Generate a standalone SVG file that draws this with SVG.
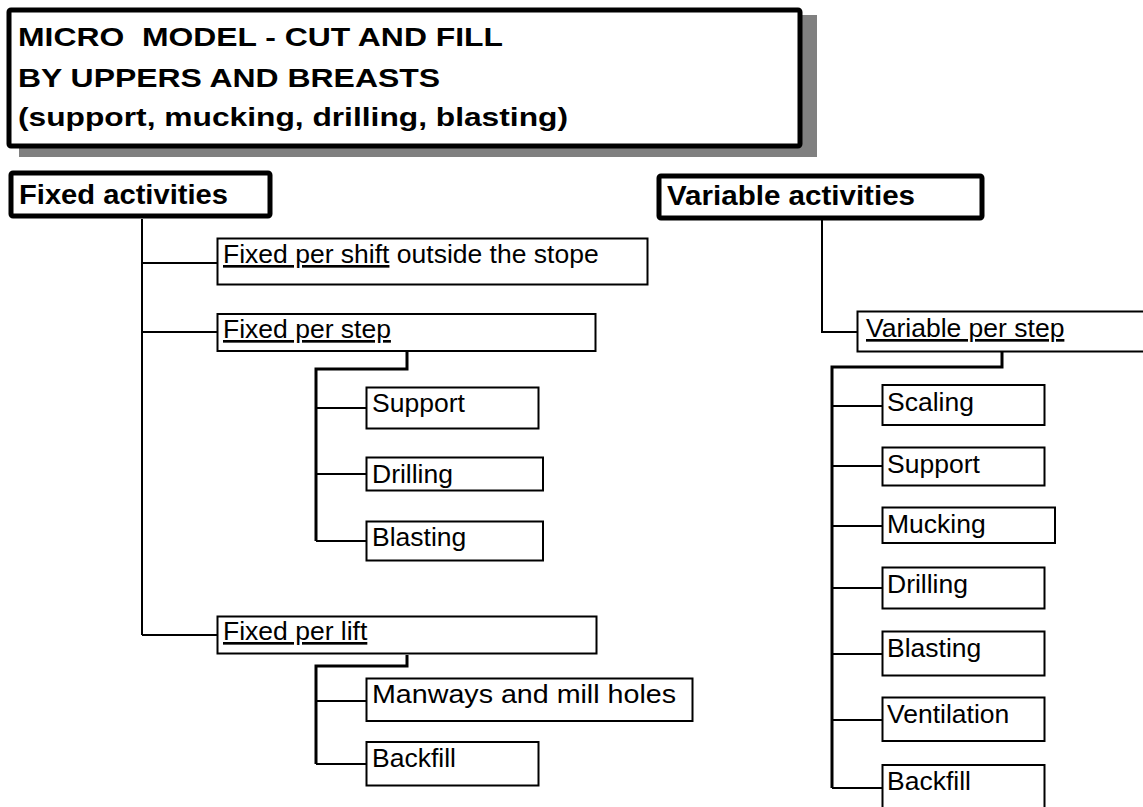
<svg xmlns="http://www.w3.org/2000/svg" width="1143" height="807" viewBox="0 0 1143 807">
<style>
.bg{fill:#ffffff}
.hdr{fill:#ffffff;stroke:#000;stroke-width:5}
.box{fill:#ffffff;stroke:#000;stroke-width:2}
.t{font-family:"Liberation Sans",Arial,sans-serif;font-size:26.5px;fill:#000}
.b{font-family:"Liberation Sans",Arial,sans-serif;font-weight:bold;fill:#000}
.u{text-decoration:underline}
.c{fill:none;stroke:#000;stroke-width:2}
.e{fill:none;stroke:#000;stroke-width:3}
</style>
<rect class="bg" x="0" y="0" width="1143" height="807"/>
<g id="title">
<rect x="19" y="15" width="798" height="142" fill="#808080"/>
<rect class="hdr" x="9" y="10" width="791" height="136" rx="2"/>
<text class="b" x="18" y="45.5" font-size="26" textLength="485" lengthAdjust="spacingAndGlyphs" xml:space="preserve">MICRO  MODEL - CUT AND FILL</text>
<text class="b" x="18" y="86.5" font-size="26" textLength="422" lengthAdjust="spacingAndGlyphs">BY UPPERS AND BREASTS</text>
<text class="b" x="18" y="126" font-size="26" textLength="550" lengthAdjust="spacingAndGlyphs">(support, mucking, drilling, blasting)</text>
</g>
<g id="connectors">
<path class="c" d="M142 219 V635 M142 263 H217 M142 332 H217 M142 635 H217"/>
<path class="e" d="M407 352 V369 H316 V541"/>
<path class="c" d="M316 408 H366 M316 474 H366 M316 541 H366"/>
<path class="e" d="M407 655 V666 H316 V764"/>
<path class="c" d="M316 701 H366 M316 764 H366"/>
<path class="c" d="M822 220 V332 H857"/>
<path class="e" d="M1002 352 V367 H832 V788"/>
<path class="c" d="M832 406 H882 M832 466 H882 M832 526 H882 M832 588 H882 M832 654 H882 M832 720 H882 M832 788 H882"/>
</g>
<g id="fixed-activities">
<rect class="hdr" x="11" y="173" width="259" height="43" rx="2"/>
<text class="b" x="19" y="204" font-size="27" textLength="209" lengthAdjust="spacingAndGlyphs">Fixed activities</text>
</g>
<g id="fixed-per-shift">
<rect class="box" x="217.5" y="238.5" width="430" height="46"/>
<text class="t" x="223" y="263"><tspan class="u">Fixed per shift</tspan> outside the stope</text>
</g>
<g id="fixed-per-step">
<rect class="box" x="217.5" y="314" width="378" height="37"/>
<text class="t" x="223" y="338"><tspan class="u">Fixed per step</tspan></text>
</g>
<g id="fixed-support">
<rect class="box" x="366.5" y="387.5" width="172" height="41"/>
<text class="t" x="372" y="412">Support</text>
</g>
<g id="fixed-drilling">
<rect class="box" x="366.5" y="457.5" width="176.5" height="33"/>
<text class="t" x="372" y="483">Drilling</text>
</g>
<g id="fixed-blasting">
<rect class="box" x="366.5" y="521.5" width="176.5" height="39"/>
<text class="t" x="372" y="546">Blasting</text>
</g>
<g id="fixed-per-lift">
<rect class="box" x="217.5" y="616.5" width="379" height="37"/>
<text class="t" x="223" y="640"><tspan class="u">Fixed per lift</tspan></text>
</g>
<g id="fixed-manways">
<rect class="box" x="366.5" y="678.5" width="326" height="42.5"/>
<text class="t" x="372" y="703" font-size="27" textLength="304" lengthAdjust="spacingAndGlyphs">Manways and mill holes</text>
</g>
<g id="fixed-backfill">
<rect class="box" x="366.5" y="742" width="172" height="43.5"/>
<text class="t" x="372" y="767">Backfill</text>
</g>
<g id="variable-activities">
<rect class="hdr" x="659" y="176" width="323" height="42" rx="2"/>
<text class="b" x="667" y="205" font-size="27" textLength="248" lengthAdjust="spacingAndGlyphs">Variable activities</text>
</g>
<g id="variable-per-step">
<rect class="box" x="857.5" y="311.5" width="300" height="40"/>
<text class="t" x="866" y="337"><tspan class="u">Variable per step</tspan></text>
</g>
<g id="var-scaling">
<rect class="box" x="882.5" y="385" width="162" height="40"/>
<text class="t" x="887" y="411">Scaling</text>
</g>
<g id="var-support">
<rect class="box" x="882.5" y="447.5" width="162" height="38"/>
<text class="t" x="887" y="473">Support</text>
</g>
<g id="var-mucking">
<rect class="box" x="882.5" y="507.5" width="172.5" height="35.5"/>
<text class="t" x="887" y="533">Mucking</text>
</g>
<g id="var-drilling">
<rect class="box" x="882.5" y="567.5" width="162" height="41"/>
<text class="t" x="887" y="593">Drilling</text>
</g>
<g id="var-blasting">
<rect class="box" x="882.5" y="631.5" width="162" height="44"/>
<text class="t" x="887" y="657">Blasting</text>
</g>
<g id="var-ventilation">
<rect class="box" x="882.5" y="697.5" width="162" height="43.5"/>
<text class="t" x="887" y="723">Ventilation</text>
</g>
<g id="var-backfill">
<rect class="box" x="882.5" y="765" width="162" height="50"/>
<text class="t" x="887" y="790">Backfill</text>
</g>
</svg>
